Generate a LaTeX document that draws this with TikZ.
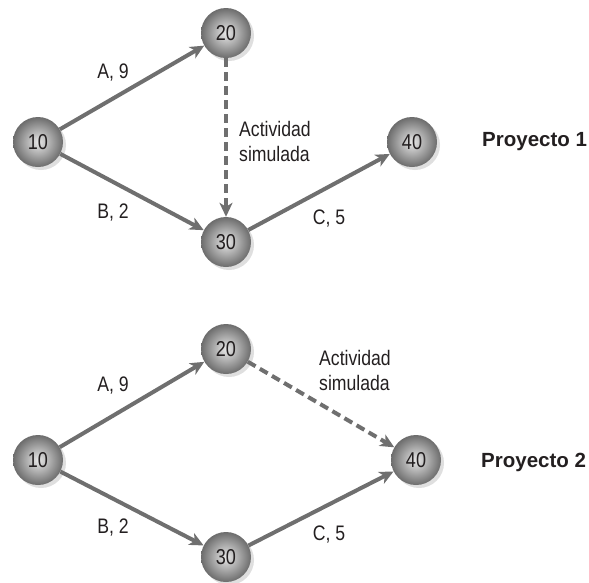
\documentclass[tikz,border=0pt]{standalone}
\usepackage{fontspec}
\setmainfont{Liberation Sans}[FakeStretch=0.84]
\newfontfamily\projfont{Liberation Sans}
\usetikzlibrary{arrows.meta,shadows,shapes.geometric}
\definecolor{linegray}{HTML}{6F6F6F}
\definecolor{txt}{HTML}{231F20}
\begin{document}
\begin{tikzpicture}[x=1pt,y=-1pt,
  evt/.style={circle, minimum size=50pt, inner sep=0pt,
    inner color=gray!18, outer color=gray!85!black,
    drop shadow={shadow xshift=3pt, shadow yshift=-3pt, opacity=0.25, fill=gray},
    font=\fontsize{21.5}{24}\selectfont, text=txt},
  act/.style={draw=linegray, line width=4pt,
    -{Stealth[length=14pt,width=13pt,inset=4pt]}},
  dummy/.style={act, dash pattern=on 9pt off 5pt},
  lbl/.style={font=\fontsize{21}{25}\selectfont, text=txt, inner sep=0pt},
  proj/.style={font=\projfont\bfseries\fontsize{20.5}{24}\selectfont, text=txt, inner sep=0pt, anchor=west}]
\useasboundingbox (0,0) rectangle (589,582);
% Proyecto 1
\node[evt] (a10) at (38,142) {10};
\node[evt] (a20) at (226,33) {20};
\node[evt] (a30) at (226,242) {30};
\node[evt] (a40) at (412,142) {40};
\draw[act] (a10) -- (a20);
\draw[act] (a10) -- (a30);
\draw[act] (a30) -- (a40);
\draw[dummy] (a20) -- (a30);
\node[lbl] (la9) at (113,73) {A, 9};
\node[lbl] (lb2) at (113,213) {B, 2};
\node[lbl] (lc5) at (329,219) {C, 5};
\node[lbl, anchor=west, align=left] (ld1) at (239,141) {Actividad\\simulada};
\node[proj] (p1) at (482,142) {Proyecto 1};
% Proyecto 2
\node[evt] (b10) at (38,460) {10};
\node[evt] (b20) at (226,349) {20};
\node[evt] (b30) at (226,557) {30};
\node[evt] (b40) at (416,460) {40};
\draw[act] (b10) -- (b20);
\draw[act] (b10) -- (b30);
\draw[act] (b30) -- (b40);
\draw[dummy] (b20) -- (b40);
\node[lbl] (lb9) at (113,386) {A, 9};
\node[lbl] (lbb2) at (113,528) {B, 2};
\node[lbl] (lbc5) at (329,535) {C, 5};
\node[lbl, anchor=west, align=left] (ld2) at (319,370) {Actividad\\simulada};
\node[proj] (p2) at (481,462) {Proyecto 2};
\end{tikzpicture}
\end{document}
